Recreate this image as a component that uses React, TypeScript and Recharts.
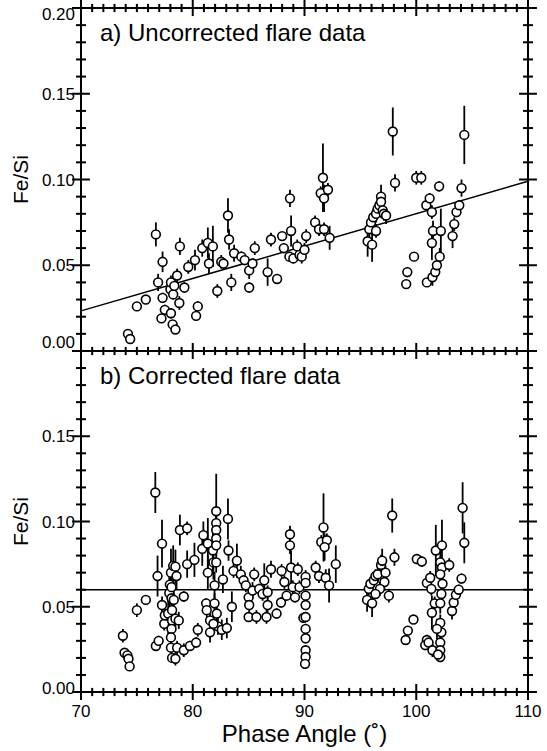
import React from 'react';
import { ScatterChart, Scatter, XAxis, YAxis, ErrorBar, ReferenceLine, Label } from 'recharts';

// a) uncorrected flare data
const topPhase = [
  74.2, 74.4, 75.0, 75.8, 76.7, 76.9, 77.2, 77.3, 77.3, 77.5,
  78.0, 78.05, 78.05, 78.2, 78.25, 78.35, 78.45, 78.6, 78.8, 78.85,
  79.25, 79.6, 80.2, 80.3, 80.45, 80.85, 81.35, 81.45, 81.8, 82.2,
  82.55, 82.75, 83.15, 83.25, 83.45, 83.7, 84.35, 84.65, 85.05, 85.05,
  85.35, 85.55, 86.7, 87.0, 87.55, 88.0, 88.15, 88.7, 88.8, 88.65,
  89.0, 89.35, 89.55, 89.75, 90.0, 90.15, 90.95, 91.3, 91.65, 91.45,
  91.75, 92.1, 91.75, 92.25, 95.65, 95.8, 95.95, 96.05, 96.15, 96.4,
  96.4, 96.55, 96.7, 96.85, 96.85, 97.0, 97.1, 97.3, 97.9, 98.1,
  99.1, 99.2, 99.8, 100.0, 100.45, 100.95, 100.9, 101.2, 101.4, 101.5,
  101.4, 101.45, 101.7, 101.85, 102.05, 102.1, 102.2, 103.25, 103.4, 103.6,
  103.85, 104.05, 104.3,
];
const topRatio = [
  0.010, 0.007, 0.026, 0.030, 0.068, 0.040, 0.019, 0.052, 0.031, 0.024,
  0.036, 0.022, 0.040, 0.0155, 0.033, 0.038, 0.0125, 0.044, 0.028, 0.061,
  0.037, 0.049, 0.053, 0.0205, 0.026, 0.060, 0.063, 0.051, 0.061, 0.035,
  0.052, 0.051, 0.079, 0.065, 0.040, 0.057, 0.055, 0.053, 0.047, 0.037,
  0.051, 0.060, 0.046, 0.065, 0.042, 0.067, 0.060, 0.089, 0.070, 0.055,
  0.054, 0.061, 0.056, 0.055, 0.059, 0.067, 0.075, 0.071, 0.101, 0.092,
  0.089, 0.094, 0.071, 0.066, 0.064, 0.071, 0.075, 0.062, 0.078, 0.070,
  0.080, 0.083, 0.085, 0.090, 0.087, 0.082, 0.080, 0.079, 0.128, 0.098,
  0.039, 0.046, 0.055, 0.101, 0.101, 0.040, 0.085, 0.089, 0.081, 0.070,
  0.063, 0.043, 0.046, 0.050, 0.096, 0.055, 0.070, 0.067, 0.074, 0.081,
  0.085, 0.095, 0.126,
];
const topError = [
  0.002, 0.002, 0.002, 0.002, 0.007, 0.005, 0.002, 0.006, 0.003, 0.003,
  0.003, 0.003, 0.004, 0.002, 0.003, 0.004, 0.002, 0.004, 0.004, 0.005,
  0.003, 0.004, 0.006, 0.002, 0.003, 0.005, 0.009, 0.006, 0.012, 0.004,
  0.004, 0.003, 0.010, 0.006, 0.005, 0.005, 0.003, 0.003, 0.005, 0.003,
  0.003, 0.004, 0.008, 0.004, 0.002, 0.002, 0.003, 0.005, 0.009, 0.003,
  0.003, 0.004, 0.003, 0.004, 0.004, 0.004, 0.004, 0.004, 0.020, 0.004,
  0.008, 0.004, 0.004, 0.007, 0.009, 0.007, 0.005, 0.010, 0.005, 0.004,
  0.005, 0.005, 0.006, 0.007, 0.005, 0.004, 0.004, 0.005, 0.014, 0.005,
  0.002, 0.003, 0.002, 0.004, 0.004, 0.002, 0.003, 0.003, 0.004, 0.006,
  0.010, 0.005, 0.004, 0.003, 0.003, 0.005, 0.013, 0.007, 0.004, 0.003,
  0.003, 0.005, 0.017,
];
const fitPhase = [70, 110];
const fitRatio = [0.0234, 0.099];

// b) corrected flare data
const bottomPhase = [
  73.75, 73.9, 74.15, 74.25, 74.35, 75.0, 75.8, 76.65, 76.85, 76.7,
  76.95, 77.25, 77.25, 77.45, 77.5, 77.8, 77.9, 77.95, 78.05, 78.1,
  78.1, 78.15, 78.15, 78.1, 78.05, 78.05, 78.15, 78.45, 78.25, 78.45,
  78.55, 78.3, 78.45, 78.75, 78.6, 79.2, 79.2, 78.85, 79.5, 79.5,
  80.15, 79.75, 80.3, 80.45, 80.95, 80.85, 81.35, 81.35, 81.2, 81.25,
  81.55, 81.55, 81.8, 81.85, 82.1, 82.1, 82.1, 82.1, 82.1, 82.1,
  81.95, 81.95, 82.15, 82.25, 81.85, 82.7, 82.6, 83.05, 83.15, 83.2,
  83.5, 83.65, 83.95, 84.3, 84.55, 84.75, 85.0, 85.05, 85.0, 85.35,
  85.5, 85.7, 85.95, 86.4, 86.25, 86.7, 86.7, 86.6, 87.0, 87.5,
  87.9, 87.95, 88.2, 88.4, 88.7, 88.7, 88.8, 88.95, 89.15, 89.4,
  89.55, 89.9, 90.1, 90.1, 90.1, 90.1, 90.1, 90.1, 90.1, 90.1,
  90.1, 90.05, 91.0, 91.3, 91.7, 91.5, 92.0, 91.8, 91.9, 92.2,
  92.8, 95.6, 96.05, 95.75, 95.9, 96.2, 96.35, 96.55, 96.85, 96.95,
  97.15, 97.25, 96.75, 96.35, 97.55, 97.85, 98.05, 99.05, 99.25, 99.75,
  100.05, 100.5, 100.95, 101.25, 101.35, 101.65, 101.4, 100.95, 100.8, 101.1,
  101.45, 101.75, 102.3, 102.15, 102.3, 102.15, 102.35, 102.25, 102.15, 102.15,
  102.25, 102.15, 102.15, 102.15, 101.95, 101.85, 102.95, 103.2, 103.35, 103.55,
  103.8, 104.05, 104.15, 104.3,
];
const bottomRatio = [
  0.033, 0.023, 0.0215, 0.0195, 0.015, 0.048, 0.054, 0.117, 0.068, 0.027,
  0.030, 0.087, 0.051, 0.040, 0.045, 0.046, 0.058, 0.063, 0.070, 0.0615,
  0.055, 0.048, 0.042, 0.037, 0.032, 0.026, 0.020, 0.0195, 0.074, 0.0735,
  0.068, 0.054, 0.043, 0.042, 0.026, 0.056, 0.0245, 0.095, 0.096, 0.075,
  0.0775, 0.027, 0.029, 0.0365, 0.092, 0.084, 0.087, 0.070, 0.052, 0.048,
  0.042, 0.035, 0.083, 0.076, 0.106, 0.099, 0.095, 0.090, 0.086, 0.076,
  0.0625, 0.052, 0.046, 0.0385, 0.040, 0.066, 0.0365, 0.0375, 0.1015, 0.083,
  0.050, 0.071, 0.077, 0.069, 0.0655, 0.0625, 0.0555, 0.051, 0.044, 0.0595,
  0.069, 0.044, 0.0605, 0.0655, 0.0575, 0.0585, 0.051, 0.044, 0.072, 0.046,
  0.0525, 0.071, 0.0645, 0.0565, 0.0925, 0.086, 0.073, 0.0615, 0.0555, 0.072,
  0.0615, 0.0435, 0.0675, 0.064, 0.0565, 0.051, 0.044, 0.037, 0.0315, 0.0245,
  0.0205, 0.0165, 0.073, 0.068, 0.0965, 0.088, 0.089, 0.085, 0.067, 0.0625,
  0.075, 0.054, 0.052, 0.0605, 0.0635, 0.0655, 0.068, 0.069, 0.0745, 0.077,
  0.0645, 0.070, 0.0605, 0.0575, 0.0565, 0.1035, 0.079, 0.0305, 0.036, 0.0425,
  0.078, 0.0765, 0.064, 0.067, 0.0605, 0.052, 0.0465, 0.0305, 0.0275, 0.029,
  0.0245, 0.083, 0.086, 0.076, 0.073, 0.069, 0.0635, 0.0575, 0.052, 0.0405,
  0.035, 0.029, 0.0245, 0.0205, 0.022, 0.037, 0.0745, 0.0475, 0.0525, 0.057,
  0.060, 0.0665, 0.108, 0.0875,
];
const bottomError = [
  0.004, 0.002, 0.002, 0.002, 0.002, 0.004, 0.002, 0.012, 0.012, 0.002,
  0.003, 0.014, 0.005, 0.004, 0.004, 0.012, 0.012, 0.012, 0.014, 0.010,
  0.008, 0.006, 0.005, 0.004, 0.004, 0.003, 0.003, 0.004, 0.012, 0.010,
  0.008, 0.006, 0.005, 0.005, 0.004, 0.003, 0.004, 0.009, 0.004, 0.008,
  0.010, 0.003, 0.003, 0.004, 0.008, 0.010, 0.015, 0.010, 0.003, 0.004,
  0.004, 0.006, 0.012, 0.010, 0.022, 0.010, 0.008, 0.006, 0.006, 0.006,
  0.008, 0.006, 0.005, 0.005, 0.004, 0.008, 0.006, 0.006, 0.012, 0.006,
  0.009, 0.004, 0.010, 0.005, 0.004, 0.004, 0.004, 0.004, 0.003, 0.005,
  0.004, 0.004, 0.003, 0.010, 0.004, 0.004, 0.004, 0.004, 0.005, 0.003,
  0.003, 0.004, 0.004, 0.003, 0.005, 0.005, 0.010, 0.004, 0.003, 0.004,
  0.004, 0.003, 0.004, 0.003, 0.003, 0.003, 0.003, 0.003, 0.003, 0.003,
  0.003, 0.003, 0.004, 0.004, 0.020, 0.004, 0.004, 0.008, 0.005, 0.010,
  0.011, 0.007, 0.008, 0.004, 0.004, 0.004, 0.004, 0.005, 0.006, 0.007,
  0.005, 0.004, 0.004, 0.003, 0.004, 0.010, 0.005, 0.002, 0.002, 0.002,
  0.003, 0.003, 0.003, 0.004, 0.004, 0.004, 0.010, 0.003, 0.003, 0.003,
  0.004, 0.015, 0.015, 0.008, 0.006, 0.006, 0.006, 0.006, 0.006, 0.005,
  0.005, 0.004, 0.004, 0.003, 0.003, 0.006, 0.004, 0.005, 0.004, 0.003,
  0.003, 0.003, 0.015, 0.012,
];
const meanRatio = 0.06;

const xDomain = [70, 110];
const yDomain = [0, 0.2];
const xMajor = [70, 80, 90, 100, 110];
const yMajor = [0, 0.05, 0.1, 0.15, 0.2];
const xMinor = Array.from({ length: 41 }, (_, i) => 70 + i).filter((v) => !xMajor.includes(v));
const yMinor = Array.from({ length: 21 }, (_, i) => i / 100).filter(
  (v) => !yMajor.some((m) => Math.abs(m - v) < 1e-6),
);

// tick mark lengths in axis units (about 8/4 px vertically, 9/5 px horizontally)
const vTickMajor = 0.0047;
const vTickMinor = 0.0024;
const hTickMajor = 0.8;
const hTickMinor = 0.45;

const FONT = '"Liberation Sans", Arial, sans-serif';
const INK = '#000';

const toRows = (phase: number[], ratio: number[], err: number[]) =>
  phase.map((p, i) => ({ phase: p, ratio: ratio[i], err: err[i] }));

const topData = toRows(topPhase, topRatio, topError);
const bottomData = toRows(bottomPhase, bottomRatio, bottomError);

// frame ticks sit on the plot edges; the clipped error bars leave the inward half
const tickRows = [
  ...xMajor.flatMap((v) => yDomain.map((r) => ({ phase: v, ratio: r, ex: 0, ey: vTickMajor }))),
  ...xMinor.flatMap((v) => yDomain.map((r) => ({ phase: v, ratio: r, ex: 0, ey: vTickMinor }))),
  ...yMajor.flatMap((v) => xDomain.map((p) => ({ phase: p, ratio: v, ex: hTickMajor, ey: 0 }))),
  ...yMinor.flatMap((v) => xDomain.map((p) => ({ phase: p, ratio: v, ex: hTickMinor, ey: 0 }))),
];

function XLabel(props: any) {
  const { x, y, payload, labels } = props;
  if (!labels) return <g />;
  return (
    <text x={x} y={y + 25} textAnchor='middle' fontSize={17} fontFamily={FONT} fill={INK}>
      {payload.value}
    </text>
  );
}

function YLabel(props: any) {
  const { x, y, payload, labelShift } = props;
  const v = payload.value;
  const shift = labelShift(v);
  if (shift === null) return <g />;
  return (
    <text x={x - 6} y={y + shift + 6} textAnchor='end' fontSize={17} fontFamily={FONT} fill={INK}>
      {v.toFixed(2)}
    </text>
  );
}

const point = (p: any) => (
  <circle cx={p.cx} cy={p.cy} r={4.4} fill='#fff' stroke={INK} strokeWidth={1.6} />
);

function Panel({ data, title, height, margin, bottomHeight, showX, labelShift, children }: any) {
  const axisLine = { stroke: INK, strokeWidth: 2 };
  return (
    <ScatterChart width={547} height={height} margin={margin}>
      <XAxis
        xAxisId='t'
        orientation='top'
        type='number'
        domain={xDomain}
        ticks={xMajor}
        height={1}
        tickSize={0}
        tickMargin={0}
        tickLine={false}
        axisLine={axisLine}
        tick={false}
      >
        <Label
          content={({ viewBox }: any) => (
            <text x={viewBox.x + 19} y={viewBox.y + 34} fontSize={24} fontFamily={FONT} fill={INK}>
              {title}
            </text>
          )}
        />
      </XAxis>
      <XAxis
        xAxisId='b'
        dataKey='phase'
        type='number'
        domain={xDomain}
        ticks={xMajor}
        interval={0}
        height={bottomHeight}
        tickSize={0}
        tickMargin={0}
        tickLine={false}
        axisLine={axisLine}
        allowDataOverflow
        tick={(p: any) => <XLabel {...p} labels={showX} />}
      >
        {showX && (
          <Label
            content={({ viewBox }: any) => (
              <text
                x={viewBox.x + viewBox.width / 2}
                y={viewBox.y + 50}
                textAnchor='middle'
                fontSize={24}
                fontFamily={FONT}
                fill={INK}
              >
                Phase Angle (˚)
              </text>
            )}
          />
        )}
      </XAxis>
      <YAxis
        yAxisId='l'
        dataKey='ratio'
        type='number'
        domain={yDomain}
        ticks={yMajor}
        interval={0}
        width={81}
        tickSize={0}
        tickMargin={0}
        tickLine={false}
        axisLine={axisLine}
        allowDataOverflow
        tick={(p: any) => <YLabel {...p} labelShift={labelShift} />}
      >
        <Label
          content={({ viewBox }: any) => {
            const cx = viewBox.x + 28;
            const cy = viewBox.y + viewBox.height / 2;
            return (
              <text
                x={cx}
                y={cy}
                transform={`rotate(-90 ${cx} ${cy})`}
                textAnchor='middle'
                fontSize={21}
                fontFamily={FONT}
                fill={INK}
              >
                Fe/Si
              </text>
            );
          }}
        />
      </YAxis>
      <YAxis
        yAxisId='r'
        orientation='right'
        type='number'
        domain={yDomain}
        ticks={yMajor}
        width={19}
        tickSize={0}
        tickMargin={0}
        tickLine={false}
        axisLine={axisLine}
        tick={false}
      />
      {children}
      <Scatter
        xAxisId='b'
        yAxisId='l'
        data={tickRows}
        dataKey='ratio'
        isAnimationActive={false}
        shape={() => <g />}
      >
        <ErrorBar dataKey='ey' direction='y' width={0} stroke={INK} strokeWidth={2} isAnimationActive={false} />
        <ErrorBar dataKey='ex' direction='x' width={0} stroke={INK} strokeWidth={2} isAnimationActive={false} />
      </Scatter>
      <Scatter xAxisId='b' yAxisId='l' data={data} dataKey='ratio' isAnimationActive={false} shape={point}>
        <ErrorBar dataKey='err' direction='y' width={0} stroke={INK} strokeWidth={1.8} isAnimationActive={false} />
      </Scatter>
    </ScatterChart>
  );
}

export default function App() {
  return (
    <div style={{ position: 'absolute', left: 0, top: 0, width: 547, height: 751, background: '#fff' }}>
      <div style={{ position: 'absolute', left: 0, top: 0 }}>
        <Panel
          data={topData}
          title='a) Uncorrected flare data'
          height={352}
          margin={{ top: 7, right: 0, bottom: 0, left: 0 }}
          bottomHeight={1}
          showX={false}
          labelShift={(v: number) => (v >= 0.2 ? 6 : v <= 0 ? -9 : 0)}
        >
          <ReferenceLine
            xAxisId='b'
            yAxisId='l'
            segment={[
              { x: fitPhase[0], y: fitRatio[0] },
              { x: fitPhase[1], y: fitRatio[1] },
            ]}
            stroke={INK}
            strokeWidth={1.5}
          />
        </Panel>
      </div>
      <div style={{ position: 'absolute', left: 0, top: 350 }}>
        <Panel
          data={bottomData}
          title='b) Corrected flare data'
          height={401}
          margin={{ top: 0, right: 0, bottom: 0, left: 0 }}
          bottomHeight={59}
          showX
          labelShift={(v: number) => (v >= 0.2 ? null : v <= 0 ? -4 : 0)}
        >
          <ReferenceLine xAxisId='b' yAxisId='l' y={meanRatio} stroke={INK} strokeWidth={1.5} />
        </Panel>
      </div>
    </div>
  );
}
